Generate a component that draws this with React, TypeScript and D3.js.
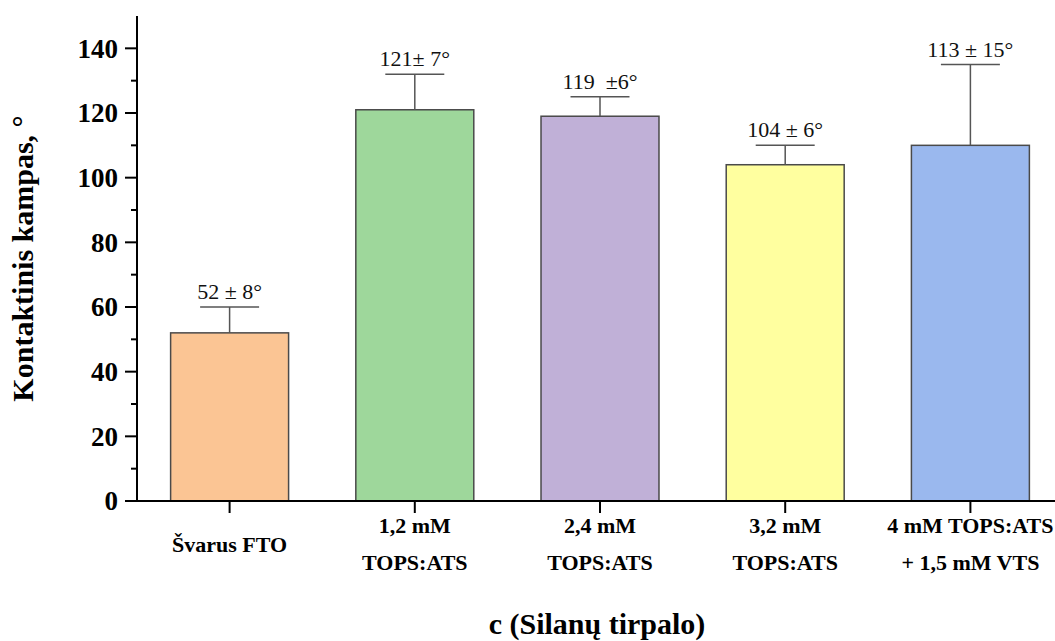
import React, { useEffect, useRef } from 'react';
import * as d3 from 'd3';

const CATEGORIES = ['Švarus FTO', '1,2 mM TOPS:ATS', '2,4 mM TOPS:ATS', '3,2 mM TOPS:ATS', '4 mM TOPS:ATS + 1,5 mM VTS'];
const TICK_LINES = [['Švarus FTO'], ['1,2 mM', 'TOPS:ATS'], ['2,4 mM', 'TOPS:ATS'], ['3,2 mM', 'TOPS:ATS'], ['4 mM TOPS:ATS', '+ 1,5 mM VTS']];
const VALUES = [52, 121, 119, 104, 110];
const ERRORS = [8, 11, 6, 6, 25];
const VALUE_LABELS = ['52 ± 8°', '121± 7°', '119  ±6°', '104 ± 6°', '113 ± 15°'];
const COLORS = ['#FBC594', '#9ED79B', '#C0B0D7', '#FFFF9F', '#9AB8EE'];
const Y_TICKS = [0, 20, 40, 60, 80, 100, 120, 140];
const Y_MINOR = [10, 30, 50, 70, 90, 110, 130];

const App = () => {
  const ref = useRef<SVGSVGElement>(null);

  useEffect(() => {
    const width = 1055, height = 641;
    const margin = { top: 16, left: 137, bottom: 140 };
    const svg = d3.select(ref.current);
    svg.selectAll('*').remove();
    const font = '"Liberation Serif", "Times New Roman", serif';

    const x = d3.scaleBand<string>().domain(CATEGORIES).range([margin.left, 1063])
      .paddingInner(0.363).paddingOuter(0.1815);
    const y = d3.scaleLinear().domain([0, 150]).range([height - margin.bottom, margin.top]);

    // bars
    svg.append('g').selectAll('rect').data(CATEGORIES).join('rect')
      .attr('x', d => x(d)!)
      .attr('y', (d, i) => y(VALUES[i]))
      .attr('width', x.bandwidth())
      .attr('height', (d, i) => y(0) - y(VALUES[i]))
      .attr('fill', (d, i) => COLORS[i])
      .attr('stroke', '#4a4a4a').attr('stroke-width', 1.5);

    // error bars
    const eb = svg.append('g').attr('stroke', '#555').attr('stroke-width', 1.5);
    CATEGORIES.forEach((c, i) => {
      const cx = x(c)! + x.bandwidth() / 2;
      const top = y(VALUES[i] + ERRORS[i]);
      eb.append('line').attr('x1', cx).attr('x2', cx).attr('y1', y(VALUES[i])).attr('y2', top);
      eb.append('line').attr('x1', cx - x.bandwidth() / 4).attr('x2', cx + x.bandwidth() / 4).attr('y1', top).attr('y2', top);
      svg.append('text').attr('x', cx).attr('y', top - 8)
        .attr('text-anchor', 'middle').attr('font-family', font).attr('font-size', 22)
        .style('white-space', 'pre').attr('fill', '#111').text(VALUE_LABELS[i]);
    });

    // y axis
    const ya = svg.append('g');
    ya.append('line').attr('x1', margin.left).attr('x2', margin.left).attr('y1', y(150)).attr('y2', y(0))
      .attr('stroke', '#000').attr('stroke-width', 2);
    ya.selectAll('.maj').data(Y_TICKS).join('line').attr('class', 'maj')
      .attr('x1', margin.left - 12).attr('x2', margin.left).attr('y1', d => y(d)).attr('y2', d => y(d))
      .attr('stroke', '#000').attr('stroke-width', 2);
    ya.selectAll('.min').data(Y_MINOR).join('line').attr('class', 'min')
      .attr('x1', margin.left - 6).attr('x2', margin.left).attr('y1', d => y(d)).attr('y2', d => y(d))
      .attr('stroke', '#000').attr('stroke-width', 2);
    ya.selectAll('text').data(Y_TICKS).join('text')
      .attr('x', 118).attr('y', d => y(d)).attr('dy', '0.34em')
      .attr('text-anchor', 'end').attr('font-family', font).attr('font-weight', 'bold').attr('font-size', 27)
      .text(d => d);

    // x axis
    const xa = svg.append('g');
    xa.append('line').attr('x1', margin.left - 1).attr('x2', width).attr('y1', y(0)).attr('y2', y(0))
      .attr('stroke', '#000').attr('stroke-width', 2);
    CATEGORIES.forEach((c, i) => {
      const cx = x(c)! + x.bandwidth() / 2;
      xa.append('line').attr('x1', cx).attr('x2', cx).attr('y1', y(0)).attr('y2', y(0) + 12)
        .attr('stroke', '#000').attr('stroke-width', 2);
      const lines = TICK_LINES[i];
      const base = lines.length === 1 ? [552] : [533, 570];
      lines.forEach((l, j) => {
        xa.append('text').attr('x', cx).attr('y', base[j])
          .attr('text-anchor', 'middle').attr('font-family', font).attr('font-weight', 'bold').attr('font-size', 22)
          .text(l);
      });
    });

    // titles
    svg.append('text').attr('transform', `translate(33, ${(y(0) + y(150)) / 2}) rotate(-90)`)
      .attr('text-anchor', 'middle').attr('font-family', font).attr('font-weight', 'bold').attr('font-size', 30)
      .text('Kontaktinis kampas, °');
    svg.append('text').attr('x', 597).attr('y', 634)
      .attr('text-anchor', 'middle').attr('font-family', font).attr('font-weight', 'bold').attr('font-size', 30)
      .text('c (Silanų tirpalo)');
  }, []);

  return (
    <div className="App">
      <svg ref={ref} width={1055} height={641}
        style={{ position: 'absolute', left: 0, top: 0, background: '#fff' }} />
    </div>
  );
};

export default App;
